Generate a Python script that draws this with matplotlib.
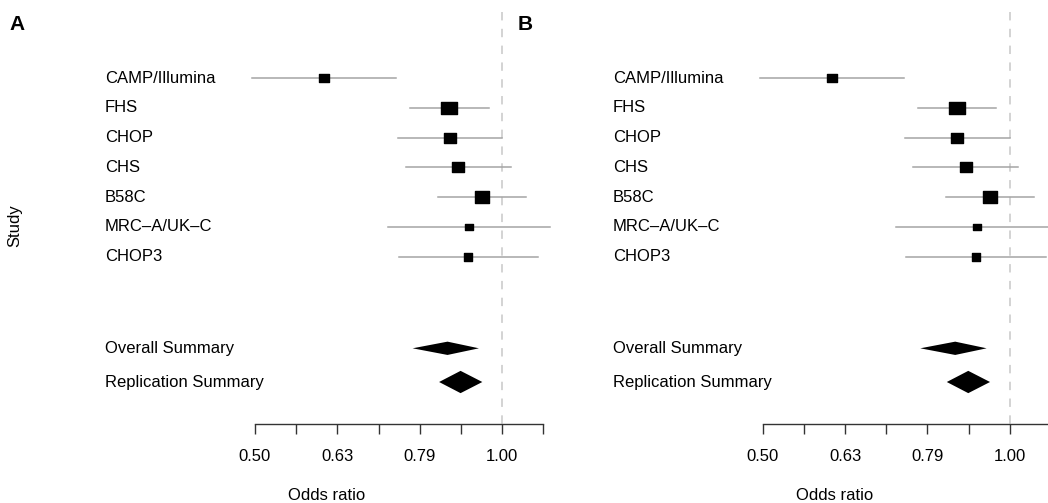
import matplotlib
matplotlib.use('Agg')
import matplotlib.pyplot as plt
from matplotlib.path import Path
from matplotlib.ticker import NullLocator, NullFormatter
from matplotlib.transforms import blended_transform_factory

plt.rcParams['font.family'] = ['Liberation Sans', 'DejaVu Sans']

# Data (odds ratios, 95% CI)
studies = ['CAMP/Illumina', 'FHS', 'CHOP', 'CHS', 'B58C', 'MRC\u2013A/UK\u2013C', 'CHOP3']
or_est = [0.607, 0.862, 0.863, 0.884, 0.946, 0.912, 0.910]
ci_low = [0.496, 0.773, 0.746, 0.763, 0.835, 0.726, 0.748]
ci_high = [0.743, 0.963, 1.000, 1.024, 1.070, 1.144, 1.107]
box_weight = [0.59, 1.0, 0.76, 0.75, 0.91, 0.50, 0.57]

summaries = ['Overall Summary', 'Replication Summary']
sum_est = [0.858, 0.890]
sum_low = [0.778, 0.838]
sum_high = [0.937, 0.946]

tick_vals = [0.5 * 2 ** (k / 6) for k in range(8)]
tick_labels = ['0.50', '', '0.63', '', '0.79', '', '1.00', '']
panels = ['A', 'B']

W, H = 1048, 503
fig = plt.figure(figsize=(W / 100, H / 100), dpi=100)

# slightly flattened box marker
box = Path([(-1, -0.82), (1, -0.82), (1, 0.82), (-1, 0.82), (-1, -0.82)],
           [Path.MOVETO, Path.LINETO, Path.LINETO, Path.LINETO, Path.CLOSEPOLY])

row_px = 29.7
top_px, axis_px, first_row_px = 11.7, 424.0, 78.3
y_top = (top_px - first_row_px) / row_px
y_bot = (axis_px - first_row_px) / row_px
sum_y = [(348.3 - first_row_px) / row_px, (382.0 - first_row_px) / row_px]
sum_h = [13.3 / row_px, 22.3 / row_px]

for p, name in enumerate(panels):
    off = 507.7 * p
    ax = fig.add_axes([(255 + off) / W, 1 - axis_px / H, 288.3 / W, (axis_px - top_px) / H])
    ax.set_xscale('log')
    ax.set_xlim(tick_vals[0], tick_vals[-1])
    ax.set_ylim(y_bot, y_top)

    # reference line at OR = 1
    ax.plot([1.0, 1.0], [y_top, y_bot], color='#c8c8c8', lw=1.1,
            ls=(0, (5.5, 5.5)), zorder=0, clip_on=False)

    trans = blended_transform_factory(fig.transFigure, ax.transData)
    for i, s in enumerate(studies):
        ax.plot([ci_low[i], ci_high[i]], [i, i], color='#a4a4a4', lw=1.1,
                clip_on=False, zorder=1)
        ax.plot([or_est[i]], [i], marker=box, color='black', ls='none',
                markersize=11.3 * box_weight[i], clip_on=False, zorder=2)
        ax.text((105 + off) / W, i, s, transform=trans, ha='left',
                va='center', fontsize=12, clip_on=False)

    for j, s in enumerate(summaries):
        y, h = sum_y[j], sum_h[j]
        ax.fill([sum_low[j], sum_est[j], sum_high[j], sum_est[j]],
                [y, y - h / 2, y, y + h / 2], color='black', lw=0,
                clip_on=False, zorder=2)
        ax.text((105 + off) / W, y, s, transform=trans, ha='left',
                va='center', fontsize=12, clip_on=False)

    for side in ['top', 'right', 'left']:
        ax.spines[side].set_visible(False)
    ax.spines['bottom'].set_color('#333333')
    ax.spines['bottom'].set_linewidth(1.0)
    ax.set_yticks([])
    ax.xaxis.set_minor_locator(NullLocator())
    ax.xaxis.set_minor_formatter(NullFormatter())
    ax.set_xticks(tick_vals)
    ax.set_xticklabels(tick_labels)
    ax.tick_params(axis='x', direction='out', length=7.2, width=1.0,
                   color='#333333', labelsize=12, pad=10.5)

    fig.text((17 + off) / W, 1 - 25 / H, name, fontsize=15, weight='bold',
             ha='center', va='center')
    fig.text((327 + off) / W, 1 - 496 / H, 'Odds ratio', fontsize=12,
             ha='center', va='center')

fig.text(15 / W, 1 - 226 / H, 'Study', rotation=90, fontsize=12,
         ha='center', va='center')

fig.savefig('out.png', dpi=100)
